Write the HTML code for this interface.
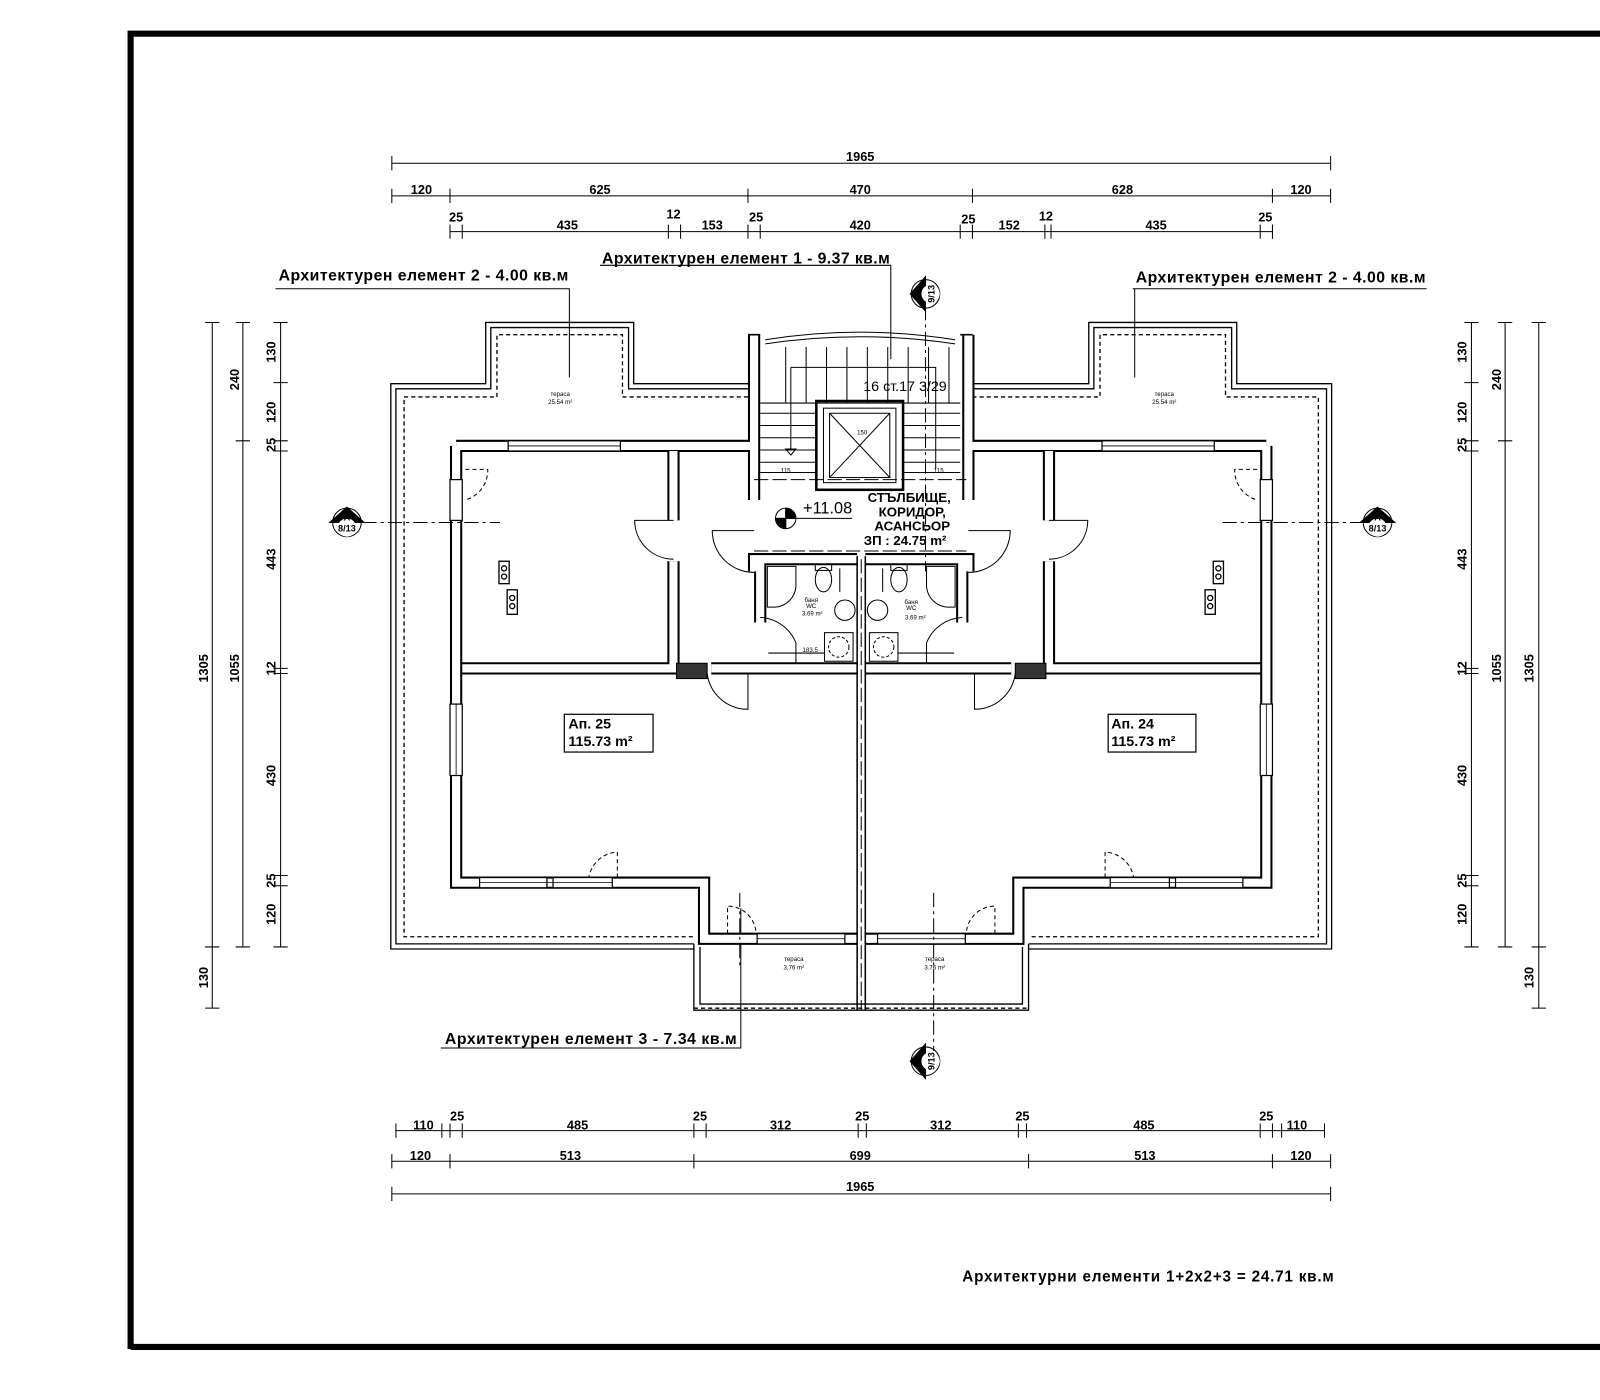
<!DOCTYPE html>
<html><head><meta charset="utf-8"><style>
html,body{margin:0;padding:0;background:#fff}
svg{display:block}
text{font-family:"Liberation Sans",sans-serif;fill:#000}
.d{font-size:12.5px;text-anchor:middle;font-weight:bold}
.l{font-size:15.5px;font-weight:bold}
.t{font-size:6px;text-anchor:middle}
</style></head><body>
<svg width="1600" height="1400" viewBox="0 0 1568 1372" xmlns="http://www.w3.org/2000/svg">
<defs>
<path id="wallL" d="M739,328 V490 M739,560 V548 H840 M697,655 H840 M447,437 H739 M447,437 V865 H690 V920 H840 M660,442 V510 M660,550 V655 M453,655 H665 M745,548 V610"/>
</defs>
<g fill="none" stroke="#000">
<path d="M128,1322 V33 H1570 M128,1320 H1570" stroke-width="6"/>

<g stroke-width="1">
<path d="M384,160 H1304 M384,192 H1304 M441,227 H1247"/>
<path d="M384,153 v14 M1304,153 v14 M384,185 v14 M441,185 v14 M733,185 v14 M953,185 v14 M1247,185 v14 M1304,185 v14 M441,220 v14 M453,220 v14 M655,220 v14 M667,220 v14 M733,220 v14 M745,220 v14 M941,220 v14 M953,220 v14 M1024,220 v14 M1030,220 v14 M1235,220 v14 M1247,220 v14"/>
<path d="M388,1108 H1298 M384,1138 H1304 M384,1170 H1304"/>
<path d="M388,1101 v14 M433,1101 v14 M441,1101 v14 M453,1101 v14 M680,1101 v14 M692,1101 v14 M841,1101 v14 M849,1101 v14 M998,1101 v14 M1006,1101 v14 M1235,1101 v14 M1247,1101 v14 M1256,1101 v14 M1298,1101 v14 M384,1131 v14 M441,1131 v14 M680,1131 v14 M1008,1131 v14 M1247,1131 v14 M1304,1131 v14 M384,1163 v14 M1304,1163 v14"/>
<path d="M208,316 V988 M238,316 V928 M275,316 V928"/>
<path d="M201,316 h14 M201,928 h14 M201,988 h14 M231,316 h14 M231,432 h14 M231,928 h14 M268,316 h14 M268,375 h14 M268,432 h14 M268,442 h14 M268,655 h14 M268,660 h14 M268,858 h14 M268,868 h14 M268,928 h14"/>
<path d="M1442,316 V928 M1475,316 V928 M1508,316 V988"/>
<path d="M1435,316 h14 M1435,375 h14 M1435,432 h14 M1435,442 h14 M1435,655 h14 M1435,660 h14 M1435,858 h14 M1435,868 h14 M1435,928 h14 M1468,316 h14 M1468,432 h14 M1468,928 h14 M1501,316 h14 M1501,928 h14 M1501,988 h14"/>
<path d="M588,260 H873 V352 M270,283 H558 V370 M1110,283 H1398 M1112,283 V370 M432,1027 H726 V890"/>
</g>

<g stroke-width="1.3">
<path d="M733,376 H621 V316 H476 V376 H383 V930 H680 M953,376 H1067 V316 H1212 V376 H1305 V930 H1008"/>
<path d="M733,381 H616 V321 H481 V381 H388 V925 H680 M953,381 H1072 V321 H1207 V381 H1300 V925 H1008"/>
<path stroke-dasharray="4,3" d="M733,389 H610 V328 H487 V389 H396 V918 H680 M953,389 H1078 V328 H1201 V389 H1292 V918 H1008"/>
<path d="M680,925 V990 H1008 V925 M686,928 V984 H1002 V928"/>
<path stroke-dasharray="4,3" d="M680,988 H1008"/>
</g>

<use href="#wallL" stroke-width="12"/>
<use href="#wallL" stroke="#fff" stroke-width="8"/>
<g transform="translate(1688,0) scale(-1,1)">
<use href="#wallL" stroke-width="12"/>
<use href="#wallL" stroke="#fff" stroke-width="8"/>
</g>
<path d="M733,328 H745 M941,328 H953 M840,545 V990 M848,545 V990" stroke-width="1.5"/>
<path d="M739,470 H947 M739,540 H947" stroke-width="1" stroke-dasharray="14,4"/>
<path d="M844,548 V990" stroke-width="1" stroke-dasharray="14,4"/>

<g fill="#fff" stroke-width="1.2">
<rect x="498" y="432" width="110" height="10"/><rect x="1080" y="432" width="110" height="10"/>
<rect x="441" y="690" width="12" height="70"/><rect x="1235" y="690" width="12" height="70"/>
<rect x="441" y="470" width="12" height="40"/><rect x="1235" y="470" width="12" height="40"/>
<rect x="470" y="860" width="66" height="10"/><rect x="542" y="860" width="58" height="10"/>
<rect x="1088" y="860" width="58" height="10"/><rect x="1152" y="860" width="66" height="10"/>
<rect x="742" y="915" width="86" height="10"/><rect x="860" y="915" width="86" height="10"/>
</g>
<path d="M498,437 H608 M1080,437 H1190 M447,690 V760 M1241,690 V760 M470,865 H600 M1088,865 H1218 M742,920 H828 M860,920 H946" stroke-width="0.8"/>

<rect x="663" y="650" width="30" height="15" fill="#333"/>
<rect x="995" y="650" width="30" height="15" fill="#333"/>

<g stroke-width="1">
<path d="M660,510 H622 A38,38 0 0 0 660,548"/>
<path d="M1028,510 H1066 A38,38 0 0 1 1028,548"/>
<path d="M733,660 V695 A40,40 0 0 1 693,660"/>
<path d="M955,660 V695 A40,40 0 0 0 995,660"/>
<path d="M739,520 H698 A41,41 0 0 0 739,561"/>
<path d="M949,520 H990 A41,41 0 0 1 949,561"/>
<path d="M780,650 V630 A40,40 0 0 0 745,605"/>
<path d="M908,650 V630 A40,40 0 0 1 943,605"/>
<path stroke-dasharray="4,3" d="M456,460 H478 A30,30 0 0 1 456,490 M1232,460 H1210 A30,30 0 0 0 1232,490"/>
<path stroke-dasharray="4,3" d="M605,860 V835 A30,30 0 0 0 577,860 M1083,860 V835 A30,30 0 0 1 1111,860"/>
<path stroke-dasharray="4,3" d="M713,915 V888 A28,28 0 0 1 741,915 M975,915 V888 A28,28 0 0 0 947,915"/>
</g>

<g stroke-width="1">
<path d="M750,333 Q843,318 936,333 M750,337 Q843,323 936,337"/>
<path d="M770,340 V395 M790,340 V395 M810,340 V395 M830,340 V395 M850,340 V395 M870,340 V395 M890,340 V395 M910,340 V395 M930,340 V395"/>
<path d="M745,405 H800 M745,417 H800 M745,429 H800 M745,441 H800 M745,453 H800 M885,405 H941 M885,417 H941 M885,429 H941 M885,441 H941 M885,453 H941 M745,395 H941"/>
<path d="M775,360 H917 V460 M775,360 V440"/>
<path d="M770,440 l5,6 l5,-6 z"/>
<rect x="800" y="393" width="85" height="87" stroke-width="2.5"/>
<rect x="807" y="400" width="71" height="73"/>
<rect x="813" y="405" width="59" height="63"/>
<path d="M813,405 L872,468 M872,405 L813,468"/>
<path d="M745,463 H800 M885,463 H941"/>
</g>

<g stroke-width="1">
<path d="M752,555 H780 V575 A22,22 0 0 1 760,595 H752 Z M936,555 H908 V575 A22,22 0 0 0 928,595 H936 Z"/>
<ellipse cx="807" cy="568" rx="8" ry="12"/><rect x="799" y="553" width="16" height="6"/>
<ellipse cx="881" cy="568" rx="8" ry="12"/><rect x="873" y="553" width="16" height="6"/>
<circle cx="828" cy="598" r="10"/><circle cx="860" cy="598" r="10"/>
<rect x="808" y="620" width="28" height="28"/><rect x="852" y="620" width="28" height="28"/>
<circle cx="822" cy="634" r="10" stroke-dasharray="3,2"/><circle cx="866" cy="634" r="10" stroke-dasharray="3,2"/>
<path d="M753,640 H808 M880,640 H935"/>
<path d="M823,557 V580 M865,557 V580"/>
</g>

<g stroke-width="1.3">
<rect x="489" y="550" width="10" height="22"/><rect x="497" y="578" width="10" height="24"/>
<circle cx="494" cy="557" r="2.5"/><circle cx="494" cy="565" r="2.5"/><circle cx="502" cy="586" r="2.5"/><circle cx="502" cy="594" r="2.5"/>
<rect x="1189" y="550" width="10" height="22"/><rect x="1181" y="578" width="10" height="24"/>
<circle cx="1194" cy="557" r="2.5"/><circle cx="1194" cy="565" r="2.5"/><circle cx="1186" cy="586" r="2.5"/><circle cx="1186" cy="594" r="2.5"/>
</g>

<rect x="553" y="700" width="87" height="37" stroke-width="1.2"/>
<rect x="1086" y="700" width="86" height="37" stroke-width="1.2"/>

<g stroke-width="1">
<path d="M355,512 H490 M1198,512 H1335" stroke-dasharray="14,4,3,4"/>
<path d="M907,300 V560 M915,875 V1030 M725,875 V950" stroke-dasharray="14,4,3,4"/>
<circle cx="340" cy="512" r="14"/><path d="M326,512 H354"/>
<circle cx="1350" cy="512" r="14"/><path d="M1336,512 H1364"/>
<circle cx="907" cy="288" r="14"/><path d="M907,274 V302"/>
<circle cx="907" cy="1040" r="14"/><path d="M907,1026 V1054"/>
<circle cx="770" cy="508" r="10"/><path d="M760,508 H780 M770,498 V518 M780,508 H835"/>
</g>
<path d="M770,498 A10,10 0 0 1 780,508 H770 Z M770,518 A10,10 0 0 1 760,508 H770 Z" fill="#000"/>
<path d="M323,512 L340,497 L357,512 Z" fill="#000"/>
<path d="M1333,512 L1350,497 L1367,512 Z" fill="#000"/>
<path d="M907,271 L892,288 L907,305 Z" fill="#000"/>
<path d="M907,1023 L892,1040 L907,1057 Z" fill="#000"/>
</g>
<g fill="#fff"><circle cx="340" cy="517" r="9"/><circle cx="1350" cy="517" r="9"/><circle cx="912" cy="288" r="9"/><circle cx="912" cy="1040" r="9"/></g>
<g font-size="9" text-anchor="middle" font-weight="bold">
<text x="340" y="510">A</text><text x="340" y="521">8/13</text>
<text x="1350" y="510">A</text><text x="1350" y="521">8/13</text>
<text transform="translate(903,288) rotate(-90)">B</text><text transform="translate(916,288) rotate(-90)">9/13</text>
<text transform="translate(903,1040) rotate(-90)">B</text><text transform="translate(916,1040) rotate(-90)">9/13</text>
</g>

<g class="d">
<text x="843" y="158">1965</text>
<text x="413" y="190">120</text><text x="588" y="190">625</text><text x="843" y="190">470</text><text x="1100" y="190">628</text><text x="1275" y="190">120</text>
<text x="447" y="217">25</text><text x="556" y="225">435</text><text x="660" y="214">12</text><text x="698" y="225">153</text><text x="741" y="217">25</text><text x="843" y="225">420</text><text x="949" y="219">25</text><text x="989" y="225">152</text><text x="1025" y="216">12</text><text x="1133" y="225">435</text><text x="1240" y="217">25</text>
<text x="415" y="1107">110</text><text x="448" y="1098">25</text><text x="566" y="1107">485</text><text x="686" y="1098">25</text><text x="765" y="1107">312</text><text x="845" y="1098">25</text><text x="922" y="1107">312</text><text x="1002" y="1098">25</text><text x="1121" y="1107">485</text><text x="1241" y="1098">25</text><text x="1271" y="1107">110</text>
<text x="412" y="1137">120</text><text x="559" y="1137">513</text><text x="843" y="1137">699</text><text x="1122" y="1137">513</text><text x="1275" y="1137">120</text>
<text x="843" y="1167">1965</text>
<text transform="translate(204,655) rotate(-90)">1305</text>
<text transform="translate(204,958) rotate(-90)">130</text>
<text transform="translate(234,372) rotate(-90)">240</text>
<text transform="translate(234,655) rotate(-90)">1055</text>
<text transform="translate(270,345) rotate(-90)">130</text>
<text transform="translate(270,404) rotate(-90)">120</text>
<text transform="translate(270,436) rotate(-90)">25</text>
<text transform="translate(270,548) rotate(-90)">443</text>
<text transform="translate(270,655) rotate(-90)">12</text>
<text transform="translate(270,760) rotate(-90)">430</text>
<text transform="translate(270,863) rotate(-90)">25</text>
<text transform="translate(270,896) rotate(-90)">120</text>
<text transform="translate(1437,345) rotate(-90)">130</text>
<text transform="translate(1437,404) rotate(-90)">120</text>
<text transform="translate(1437,436) rotate(-90)">25</text>
<text transform="translate(1437,548) rotate(-90)">443</text>
<text transform="translate(1437,655) rotate(-90)">12</text>
<text transform="translate(1437,760) rotate(-90)">430</text>
<text transform="translate(1437,863) rotate(-90)">25</text>
<text transform="translate(1437,896) rotate(-90)">120</text>
<text transform="translate(1471,372) rotate(-90)">240</text>
<text transform="translate(1471,655) rotate(-90)">1055</text>
<text transform="translate(1503,655) rotate(-90)">1305</text>
<text transform="translate(1503,958) rotate(-90)">130</text>
</g>

<g class="l">
<text x="590" y="258" textLength="282">Архитектурен елемент 1 - 9.37 кв.м</text>
<text x="273" y="275" textLength="284">Архитектурен елемент 2 - 4.00 кв.м</text>
<text x="1113" y="277" textLength="284">Архитектурен елемент 2 - 4.00 кв.м</text>
<text x="436" y="1023" textLength="286">Архитектурен елемент 3 - 7.34 кв.м</text>
<text x="943" y="1256" textLength="364" font-size="15">Архитектурни елементи 1+2x2+3 = 24.71 кв.м</text>
<text x="557" y="714" font-size="14">Ап. 25</text><text x="557" y="731" font-size="14">115.73 m²</text>
<text x="1089" y="714" font-size="14">Ап. 24</text><text x="1089" y="731" font-size="14">115.73 m²</text>
<text x="846" y="383" font-size="14" font-weight="normal">16 ст.17 3/29</text>
<text x="787" y="503" font-size="16" font-weight="normal">+11.08</text>
</g>
<g font-size="13" text-anchor="middle" font-weight="bold">
<text x="891" y="492">СТЪЛБИЩЕ,</text><text x="894" y="506">КОРИДОР,</text><text x="894" y="520">АСАНСЬОР</text><text x="887" y="534">ЗП : 24.75 m²</text>
</g>
<g class="t">
<text x="549" y="388">тераса</text><text x="549" y="396">25.54 m²</text>
<text x="1141" y="388">тераса</text><text x="1141" y="396">25.54 m²</text>
<text x="778" y="942">тераса</text><text x="778" y="950">3.76 m²</text>
<text x="916" y="942">тераса</text><text x="916" y="950">3.76 m²</text>
<text x="795" y="590">баня</text><text x="795" y="596">WC</text><text x="796" y="603">3.69 m²</text>
<text x="893" y="592">баня</text><text x="893" y="598">WC</text><text x="897" y="607">3.69 m²</text>
<text x="794" y="639">183.5</text>
<text x="770" y="463">115</text><text x="920" y="463">115</text>
<text x="845" y="426">150</text>
</g>
</svg>
</body></html>
